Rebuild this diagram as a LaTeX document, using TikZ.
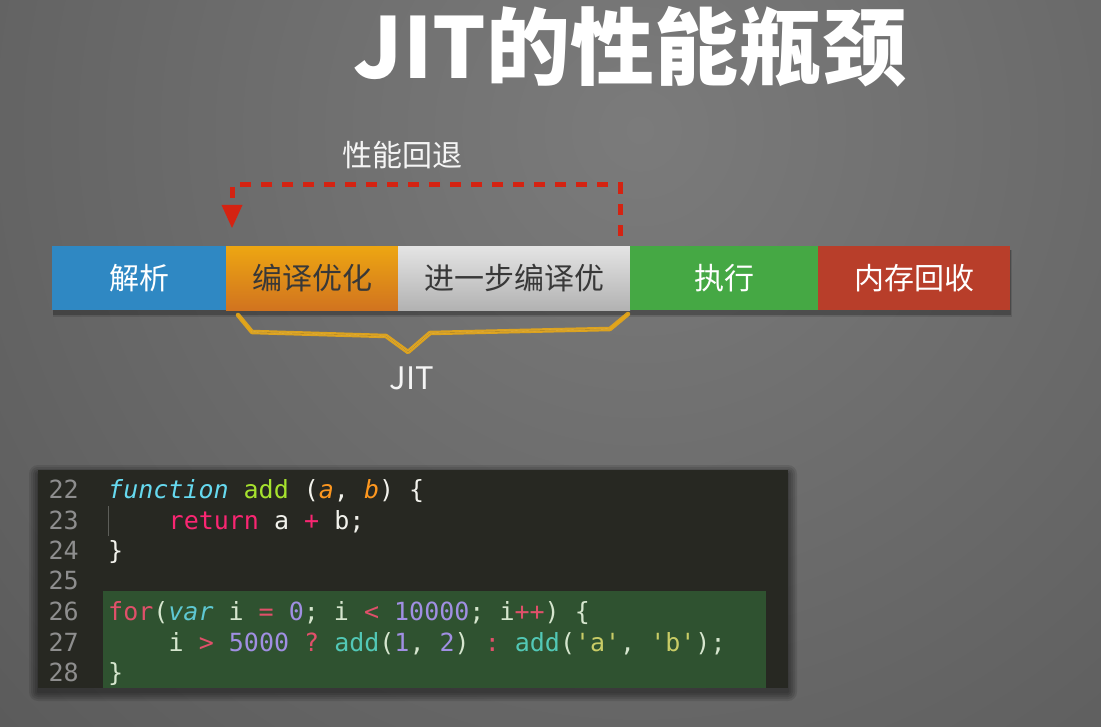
\documentclass[tikz,border=0pt]{standalone}
\usepackage{fontspec}
\newfontfamily\cjk{Noto Sans CJK SC}
\setmonofont{DejaVu Sans Mono}
\definecolor{bglight}{HTML}{7B7B7B}
\definecolor{bgmid}{HTML}{5C5C5C}
\definecolor{bgdark}{HTML}{383838}
\definecolor{segblue}{HTML}{2F88C3}
\definecolor{segorangeT}{HTML}{EDA612}
\definecolor{segorangeB}{HTML}{D1731F}
\definecolor{seggrayT}{HTML}{E4E4E4}
\definecolor{seggrayB}{HTML}{B2B2B2}
\definecolor{seggreen}{HTML}{45A844}
\definecolor{segred}{HTML}{B83E2A}
\definecolor{segtext}{HTML}{383838}
\definecolor{fbred}{HTML}{D42312}
\definecolor{bracegold}{HTML}{E8A816}
\definecolor{codebg}{HTML}{272822}
\definecolor{codehl}{HTML}{2F5230}
\definecolor{cnum}{HTML}{8E8E8E}
\definecolor{cwhite}{HTML}{F2F2EC}
\definecolor{ccyan}{HTML}{66D9EF}
\definecolor{cgreen}{HTML}{A6E22E}
\definecolor{corange}{HTML}{FD971F}
\definecolor{cpink}{HTML}{F92672}
\definecolor{hlight}{HTML}{D6E6CE}
\definecolor{hpink}{HTML}{E0506A}
\definecolor{hpurple}{HTML}{A08FE2}
\definecolor{hteal}{HTML}{52C8B6}
\definecolor{hyellow}{HTML}{C9CC66}
\definecolor{hcyan}{HTML}{5EC8D2}
\pgfdeclareradialshading{bgshade}{\pgfpoint{0bp}{0bp}}{color(0bp)=(bglight); color(23.6bp)=(bgmid); color(47.2bp)=(bgdark); color(50bp)=(bgdark)}
\begin{document}
\begin{tikzpicture}[x=1pt,y=-1pt,
  seg/.style={minimum height=64, inner sep=0, anchor=north west, font=\cjk\fontsize{30}{30}\selectfont},
  lnum/.style={anchor=base east, inner sep=0, text=cnum, font=\ttfamily\fontsize{25}{25}\selectfont},
  codeline/.style={anchor=base west, inner sep=0, text=cwhite, font=\ttfamily\fontsize{25}{25}\selectfont},
  hlline/.style={codeline, text=hlight},
  fbline/.style={draw=fbred, line width=5, dash pattern=on 11 off 10},
  bracestroke/.style={draw=bracegold, line join=round, line cap=round}]
\useasboundingbox (0,0) rectangle (1101,727);
\begin{scope}
\clip (0,0) rectangle (1101,727);
\fill[bgdark] (0,0) rectangle (1101,727);
\shade[shading=bgshade] (640,130) circle (900);
\end{scope}
% title
\node[text=white, font=\cjk\bfseries\fontsize{84}{84}\selectfont, inner sep=0] (title) at (630,47) {JIT的性能瓶颈};
\node[text=white!92!gray, font=\cjk\fontsize{30}{30}\selectfont, inner sep=0] (fblabel) at (402,155) {性能回退};
% bar shadow
\fill[black, opacity=.22] (53,250) rectangle (1011,315);
\fill[black, opacity=.12] (53,250) rectangle (1012,317);
% segments
\node[seg, minimum width=174, fill=segblue, text=white] (parse) at (52,246) {解析};
\node[seg, minimum width=172, top color=segorangeT, bottom color=segorangeB, text=segtext] (opt) at (226,246) {编译优化};
\node[seg, minimum width=232, top color=seggrayT, bottom color=seggrayB, text=segtext] (opt2) at (398,246) {进一步编译优};
\node[seg, minimum width=188, fill=seggreen, text=white] (exec) at (630,246) {执行};
\node[seg, minimum width=192, fill=segred, text=white] (gc) at (818,246) {内存回收};
% feedback dashed arrow
\coordinate (fbR) at (620,236);
\coordinate (fbTR) at (620,185);
\coordinate (fbTL) at (232,185);
\coordinate (fbL) at (232,206);
\coordinate (fbTip) at (232,228);
\draw[fbline] (fbR) -- (fbTR) -- (fbTL) -- (fbL);
\fill[fbred] (221.5,205) -- (242.5,205) -- (fbTip) -- cycle;
% brace
\coordinate (b1) at (238,315);
\coordinate (b2) at (252,332);
\coordinate (b3) at (386,336);
\coordinate (b4) at (408,352);
\coordinate (b5) at (430,333);
\coordinate (b6) at (610,329);
\coordinate (b7) at (628,314);
\draw[bracestroke, line width=4.5, opacity=.9] (b1) -- (b2) -- (b3) -- (b4) -- (b5) -- (b6) -- (b7);
\draw[bracestroke, line width=1.2, opacity=.8, yshift=-2.5] (b1) -- (b2) -- (b3) -- (b4) -- (b5) -- (b6) -- (b7);
\draw[bracestroke, line width=1.2, opacity=.7, draw=bracegold!75!white, yshift=2.5] (b2) -- (b3) -- (b4) -- (b5) -- (b6);
\draw[line width=.6, opacity=.5, draw=bracegold!60!black, line join=round, yshift=.5] (b2) -- (b3) -- (b4) -- (b5) -- (b6);
\node[text=white!92!gray, font=\cjk\fontsize{31}{31}\selectfont, inner sep=0] (jit) at (412,378) {JIT};
% code block shadow
\foreach \s in {1,3,5,7,9}{
  \fill[black, opacity=.1, rounded corners=\s] (38-\s,470-\s+4) rectangle (788+\s,688+\s+4);
}
\fill[codebg] (38,470) rectangle (788,688);
\fill[codehl] (103,591) rectangle (766,688);
\draw[line width=1, draw=white!25!codebg] (108,506) -- (108,536);
% line numbers
\node[lnum] (n22) at (79,498) {22};
\node[lnum] (n23) at (79,529) {23};
\node[lnum] (n24) at (79,559) {24};
\node[lnum] (n25) at (79,589) {25};
\node[lnum] (n26) at (79,620) {26};
\node[lnum] (n27) at (79,651) {27};
\node[lnum] (n28) at (79,681) {28};
% code
\node[codeline] (c22) at (108,498) {\textcolor{ccyan}{\itshape function} \textcolor{cgreen}{add} (\textcolor{corange}{\itshape a}, \textcolor{corange}{\itshape b}) \{};
\node[codeline] (c23) at (168.5,529) {\textcolor{cpink}{return} a \textcolor{cpink}{+} b;};
\node[codeline] (c24) at (108,559) {\}};
\node[hlline] (c26) at (108,620) {\textcolor{hpink}{for}(\textcolor{hcyan}{\itshape var} i \textcolor{hpink}{=} \textcolor{hpurple}{0}; i \textcolor{hpink}{<} \textcolor{hpurple}{10000}; i\textcolor{hpink}{++}) \{};
\node[hlline] (c27) at (168.5,651) {i \textcolor{hpink}{>} \textcolor{hpurple}{5000} \textcolor{hpink}{?} \textcolor{hteal}{add}(\textcolor{hpurple}{1}, \textcolor{hpurple}{2}) \textcolor{hpink}{:} \textcolor{hteal}{add}(\textcolor{hyellow}{'a'}, \textcolor{hyellow}{'b'});};
\node[hlline] (c28) at (108,681) {\}};
\end{tikzpicture}
\end{document}
